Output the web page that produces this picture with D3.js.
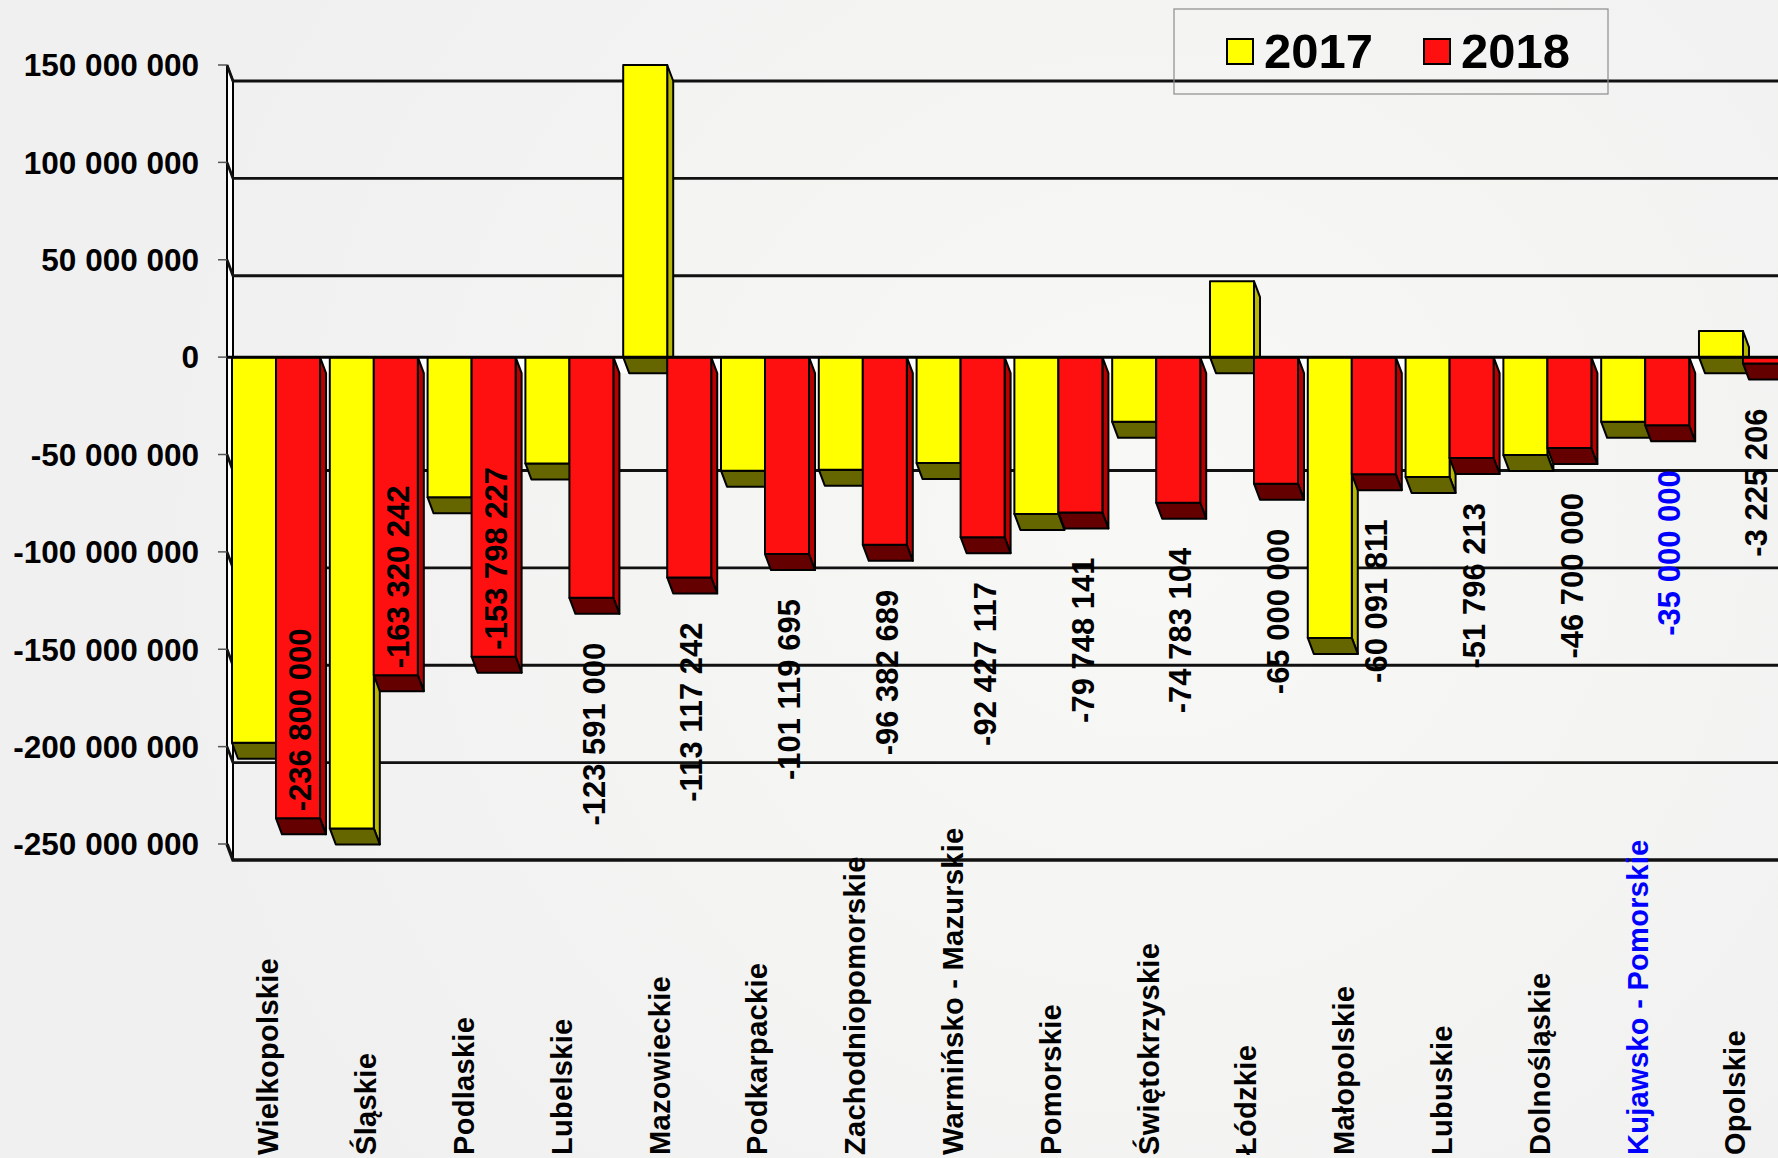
<!DOCTYPE html>
<html lang="pl">
<head>
  <meta charset="UTF-8">
  <title>2017 / 2018</title>
  <style>
    html, body { margin: 0; padding: 0; background: #f2f2f2; }
    svg { display: block; font-family: 'Liberation Sans', Arial, sans-serif; font-weight: bold; }
  </style>
</head>
<body>
  <svg id="wykres" width="1778" height="1158"></svg>

  <script src="https://d3js.org/d3.v7.min.js"></script>
  <script>
    // dane
    const categories = ['Wielkopolskie', 'Śląskie', 'Podlaskie', 'Lubelskie', 'Mazowieckie', 'Podkarpackie',
      'Zachodniopomorskie', 'Warmińsko - Mazurskie', 'Pomorskie', 'Świętokrzyskie', 'Łódzkie', 'Małopolskie',
      'Lubuskie', 'Dolnośląskie', 'Kujawsko - Pomorskie', 'Opolskie'];
    const values2017 = [-198000000, -242000000, -72000000, -54600000, 150000000, -58300000,
      -57800000, -54400000, -80500000, -33200000, 39000000, -144200000,
      -61500000, -50300000, -33200000, 13400000];
    const values2018 = [-236800000, -163320242, -153798227, -123591000, -113117242, -101119695,
      -96382689, -92427117, -79748141, -74783104, -65000000, -60091811,
      -51796213, -46700000, -35000000, -3225206];
    const seriesNames = ['2017', '2018'];
    const yTicks = [150000000, 100000000, 50000000, 0, -50000000, -100000000, -150000000, -200000000, -250000000];
    const highlighted = 'Kujawsko - Pomorskie';

    const W = 1778, H = 1158;
    const dx = 6, dy = 16;          // głębokość 3D
    const axisX = 227;

    const colors = {
      '2017': { front: '#ffff00', side: '#b8b800', bottom: '#666600' },
      '2018': { front: '#ff1010', side: '#b80000', bottom: '#640000' }
    };

    const fmt = d3.formatLocale({ decimal: ',', thousands: ' ', grouping: [3], currency: ['', ''], minus: '-' }).format(',d');

    const svg = d3.select('#wykres');

    // tło
    const defs = svg.append('defs');
    const grad = defs.append('radialGradient').attr('id', 'tlo')
      .attr('cx', 1150).attr('cy', 520).attr('r', 1000).attr('gradientUnits', 'userSpaceOnUse');
    grad.append('stop').attr('offset', '0%').attr('stop-color', '#f8f8f6');
    grad.append('stop').attr('offset', '100%').attr('stop-color', '#f0f0f0');
    svg.append('rect').attr('width', W).attr('height', H).attr('fill', 'url(#tlo)');

    const y = d3.scaleLinear().domain([-250000000, 150000000]).range([844, 65]);
    const x = d3.scaleBand().domain(categories).range([232, 1787]).paddingInner(0.1).paddingOuter(0);
    const xs = d3.scaleBand().domain(seriesNames).range([0, x.bandwidth()]);
    const y0 = y(0);

    // lewa ściana
    svg.append('path')
      .attr('d', `M${axisX},${y(150000000)} L${axisX + dx},${y(150000000) + dy} L${axisX + dx},${y(-250000000) + dy} L${axisX},${y(-250000000)} Z`)
      .attr('fill', '#ffffff').attr('stroke', '#000').attr('stroke-width', 2);

    // linie siatki na tylnej ścianie
    svg.append('g').selectAll('path')
      .data(yTicks.filter(d => d !== 0))
      .enter().append('path')
      .attr('d', d => `M${axisX},${y(d)} L${axisX + dx},${y(d) + dy} L${W},${y(d) + dy}`)
      .attr('fill', 'none')
      .attr('stroke', '#111')
      .attr('stroke-width', d => d === -250000000 ? 3.5 : 2.8);

    // podłoga na poziomie 0
    svg.append('path')
      .attr('d', `M${axisX},${y0} L${W},${y0} L${W + dx},${y0 + dy} L${axisX + dx},${y0 + dy} Z`)
      .attr('fill', '#ffffff');

    // oś Y
    const osY = svg.append('g');
    osY.selectAll('line')
      .data(yTicks)
      .enter().append('line')
      .attr('x1', axisX - 9).attr('x2', axisX)
      .attr('y1', d => y(d)).attr('y2', d => y(d))
      .attr('stroke', '#555').attr('stroke-width', 1.5);
    osY.selectAll('text')
      .data(yTicks)
      .enter().append('text')
      .attr('x', 199)
      .attr('y', d => y(d))
      .attr('dy', '0.36em')
      .attr('text-anchor', 'end')
      .style('font-size', '31.5px')
      .attr('fill', '#000')
      .text(d => fmt(d));

    // słupki 3D
    const bars = [];
    categories.forEach((c, i) => {
      bars.push({ cat: c, s: '2017', v: values2017[i] });
      bars.push({ cat: c, s: '2018', v: values2018[i] });
    });

    const gBars = svg.append('g').attr('stroke', '#000').attr('stroke-width', 2).attr('stroke-linejoin', 'round');

    bars.forEach(b => {
      const bx = x(b.cat) + xs(b.s);
      const w = xs.bandwidth();
      const yv = y(b.v);
      const col = colors[b.s];
      const g = gBars.append('g');
      if (b.v < 0) {
        g.append('path')
          .attr('d', `M${bx + w},${y0} L${bx + w + dx},${y0 + dy} L${bx + w + dx},${yv + dy} L${bx + w},${yv} Z`)
          .attr('fill', col.side);
        g.append('path')
          .attr('d', `M${bx},${yv} L${bx + w},${yv} L${bx + w + dx},${yv + dy} L${bx + dx},${yv + dy} Z`)
          .attr('fill', col.bottom);
        g.append('rect')
          .attr('x', bx).attr('y', y0).attr('width', w).attr('height', yv - y0)
          .attr('fill', col.front);
      } else {
        g.append('path')
          .attr('d', `M${bx + w},${yv} L${bx + w + dx},${yv + dy} L${bx + w + dx},${y0 + dy} L${bx + w},${y0} Z`)
          .attr('fill', col.side);
        g.append('path')
          .attr('d', `M${bx},${y0} L${bx + w},${y0} L${bx + w + dx},${y0 + dy} L${bx + dx},${y0 + dy} Z`)
          .attr('fill', col.bottom);
        g.append('rect')
          .attr('x', bx).attr('y', yv).attr('width', w).attr('height', y0 - yv)
          .attr('fill', col.front);
      }
    });

    // linia zera z przodu
    svg.append('line')
      .attr('x1', axisX).attr('x2', W)
      .attr('y1', y0).attr('y2', y0)
      .attr('stroke', '#000').attr('stroke-width', 3);

    // etykiety wartości 2018
    svg.append('g').selectAll('text')
      .data(categories.map((c, i) => ({ cat: c, v: values2018[i] })))
      .enter().append('text')
      .attr('transform', d => {
        // etykieta przy prawej krawędzi przesunięta, żeby się mieściła
        const cx = Math.min(x(d.cat) + xs('2018') + xs.bandwidth() / 2 + 2, W - 22);
        const inside = d.v < -150000000;
        const py = inside ? y(d.v) - 7 : y(d.v) + 45;
        return `translate(${cx},${py}) rotate(-90)`;
      })
      .attr('text-anchor', d => d.v < -150000000 ? 'start' : 'end')
      .attr('dy', '0.36em')
      .style('font-size', '31px')
      .attr('fill', d => d.cat === highlighted ? '#0000ff' : '#000')
      .text(d => fmt(d.v));

    // etykiety kategorii
    svg.append('g').selectAll('text')
      .data(categories)
      .enter().append('text')
      .attr('transform', d => `translate(${x(d) + x.bandwidth() / 2 - 8},1155) rotate(-90)`)
      .attr('text-anchor', 'start')
      .attr('dy', '0.36em')
      .style('font-size', '29px')
      .style('letter-spacing', '0.3px')
      .attr('fill', d => d === highlighted ? '#0000ff' : '#000')
      .text(d => d);

    // legenda
    const leg = svg.append('g');
    leg.append('rect')
      .attr('x', 1174).attr('y', 9).attr('width', 434).attr('height', 85)
      .attr('fill', 'none').attr('stroke', '#8c8c8c').attr('stroke-width', 1.2);
    const legX = { '2017': 1227, '2018': 1424 };
    seriesNames.forEach(s => {
      leg.append('rect')
        .attr('x', legX[s]).attr('y', 39).attr('width', 26).attr('height', 25)
        .attr('fill', colors[s].front).attr('stroke', '#000').attr('stroke-width', 2);
      leg.append('text')
        .attr('x', legX[s] + 37).attr('y', 68)
        .style('font-size', '49px')
        .attr('fill', '#000')
        .text(s);
    });
  </script>
</body>
</html>
